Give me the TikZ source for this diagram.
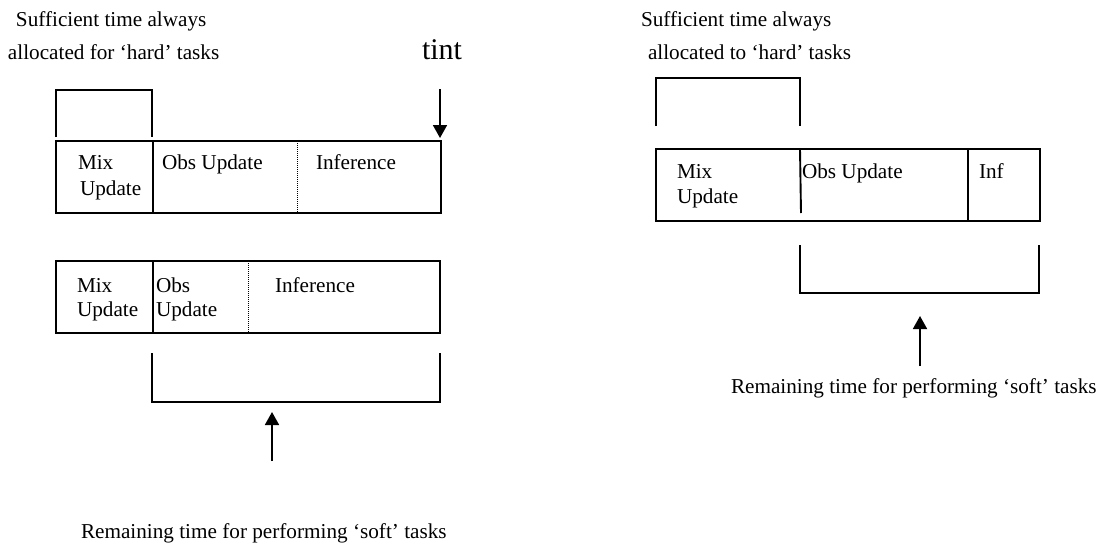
\documentclass[tikz,border=0pt]{standalone}
\usepackage{fontspec}
\setmainfont{Liberation Serif}
\usetikzlibrary{arrows.meta}
\begin{document}
\begin{tikzpicture}[x=1pt,y=-1pt,
  lbl/.style={anchor=base west,inner sep=0pt,outer sep=0pt,font=\fontsize{21.2}{25}\selectfont},
  big/.style={anchor=base west,inner sep=0pt,outer sep=0pt,font=\fontsize{30}{35}\selectfont},
  frame/.style={line width=1.9pt,line join=miter},
  dots/.style={line width=0.9pt,dash pattern=on 1pt off 1pt},
  marker/.style={line width=1.8pt,-{Triangle[width=14pt,length=13pt]}}]
\useasboundingbox (0,0) rectangle (1100,547);

% ---- left: first schedule ----
\node[lbl] (lsuf) at (16,26) {Sufficient time always};
\node[lbl] (lalloc) at (8,59) {allocated for `hard' tasks};
\node[big] (tint) at (422,59) {tint};
\draw[frame] (56,137) -- (56,90) -- (152,90) -- (152,137);
\draw[frame] (56,141) rectangle (441,213);
\draw[frame] (153,141) -- (153,213);
\draw[dots] (297,141) -- (297,213);
\node[lbl] (amix) at (78,169) {Mix};
\node[lbl] (aupd) at (80,195) {Update};
\node[lbl] (aobs) at (162,169) {Obs Update};
\node[lbl] (ainf) at (316,169) {Inference};
\coordinate (tinttop) at (440,89);
\coordinate (tintend) at (440,138);
\draw[marker] (tinttop) -- (tintend);

% ---- left: second schedule ----
\draw[frame] (56,261) rectangle (440,333);
\draw[frame] (153,261) -- (153,333);
\draw[dots] (248,261) -- (248,333);
\node[lbl] (bmix) at (77,292) {Mix};
\node[lbl] (bupd) at (77,316) {Update};
\node[lbl] (bobs) at (156,292) {Obs};
\node[lbl] (bobu) at (156,316) {Update};
\node[lbl] (binf) at (275,292) {Inference};
\draw[frame] (152,353) -- (152,402) -- (440,402) -- (440,353);
\coordinate (lsofttail) at (272,461);
\coordinate (lsofttip) at (272,412);
\draw[marker] (lsofttail) -- (lsofttip);
\node[lbl] (lrem) at (81,538) {Remaining time for performing `soft' tasks};

% ---- right: schedule ----
\node[lbl] (rsuf) at (641,26) {Sufficient time always};
\node[lbl] (ralloc) at (648,59) {allocated to `hard' tasks};
\draw[frame] (656,126) -- (656,78) -- (800,78) -- (800,126);
\draw[frame] (656,149) rectangle (1040,221);
\draw[frame] (800,149) -- (801,213);
\draw[frame] (968,149) -- (968,221);
\node[lbl] (cmix) at (677,178) {Mix};
\node[lbl] (cupd) at (677,203) {Update};
\node[lbl] (cobs) at (802,178) {Obs Update};
\node[lbl] (cinf) at (979,178) {Inf};
\draw[frame] (800,245) -- (800,293) -- (1039,293) -- (1039,245);
\coordinate (rsofttail) at (920,366);
\coordinate (rsofttip) at (920,316);
\draw[marker] (rsofttail) -- (rsofttip);
\node[lbl] (rrem) at (731,393) {Remaining time for performing `soft' tasks};
\end{tikzpicture}
\end{document}
